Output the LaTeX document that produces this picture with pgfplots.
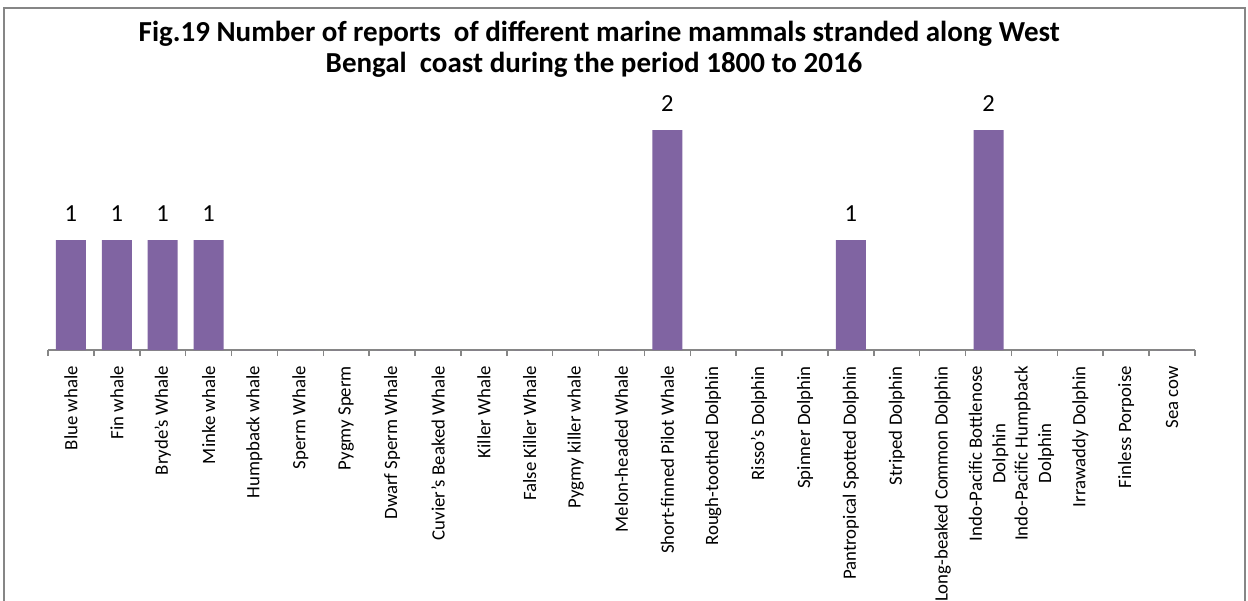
\documentclass[border=0pt]{standalone}
\usepackage{fontspec}
\setmainfont{Carlito}
\usepackage{pgfplots}
\pgfplotsset{compat=1.18}
\definecolor{barpurple}{HTML}{8064A2}
\definecolor{framegray}{HTML}{868686}
\begin{document}
\begin{tikzpicture}[x=1pt,y=1pt]
\useasboundingbox (0,0) rectangle (1248,-601);
\draw[framegray, line width=2pt] (4,-8) rectangle (1245,-640);
\node[anchor=base, font=\fontsize{29}{34}\selectfont\bfseries] at (599.3,-41.7) {Fig.19 Number of reports~ of different marine mammals stranded along West};
\node[anchor=base, font=\fontsize{29}{34}\selectfont\bfseries] at (594,-73) {Bengal~ coast during the period 1800 to 2016};
\begin{axis}[
  at={(48pt,-350pt)}, anchor=south west,
  scale only axis, width=1147pt, height=242pt,
  xmin=-0.5, xmax=24.5, ymin=0, ymax=2.2,
  axis y line=none, axis x line*=bottom,
  x axis line style={framegray, line width=1.5pt},
  ytick=\empty,
  xtick={0,...,24},
  minor xtick={-0.5,0.5,...,24.5},
  major tick length=0pt,
  minor tick length=6pt,
  tick align=outside,
  xtick style={framegray, line width=1.5pt},
  minor x tick style={framegray, line width=1.5pt},
  xticklabels={Blue whale, Fin whale, Bryde's Whale, Minke whale, Humpback whale, Sperm Whale, Pygmy Sperm, Dwarf Sperm Whale, Cuvier’s Beaked Whale, Killer Whale, False Killer Whale, Pygmy killer whale, Melon-headed Whale, Short-finned Pilot Whale, Rough-toothed Dolphin, Risso’s Dolphin, Spinner Dolphin, Pantropical Spotted Dolphin, Striped Dolphin, Long-beaked Common Dolphin, {Indo-Pacific Bottlenose\\Dolphin}, {Indo-Pacific Humpback\\Dolphin}, Irrawaddy Dolphin, Finless Porpoise, Sea cow},
  xticklabel style={rotate=90, anchor=east, align=center, inner sep=0pt, font=\fontsize{18.8}{23.5}\selectfont, text=black},
  xticklabel shift=16pt,
  ybar, bar width=30pt,
  clip=false,
  /pgf/number format/assume math mode=true,
  nodes near coords={\pgfmathfloatifflags{\pgfplotspointmeta}{0}{}{\pgfmathprintnumber{\pgfplotspointmeta}}},
  every node near coord/.append style={anchor=base, yshift=18.5pt, inner sep=0pt, font=\fontsize{24.5}{29}\selectfont, text=black},
]
\addplot[fill=barpurple, draw=none] coordinates {
(0,1) (1,1) (2,1) (3,1) (4,0) (5,0) (6,0) (7,0) (8,0) (9,0) (10,0) (11,0) (12,0)
(13,2) (14,0) (15,0) (16,0) (17,1) (18,0) (19,0) (20,2) (21,0) (22,0) (23,0) (24,0)
};
\end{axis}
\end{tikzpicture}
\end{document}
